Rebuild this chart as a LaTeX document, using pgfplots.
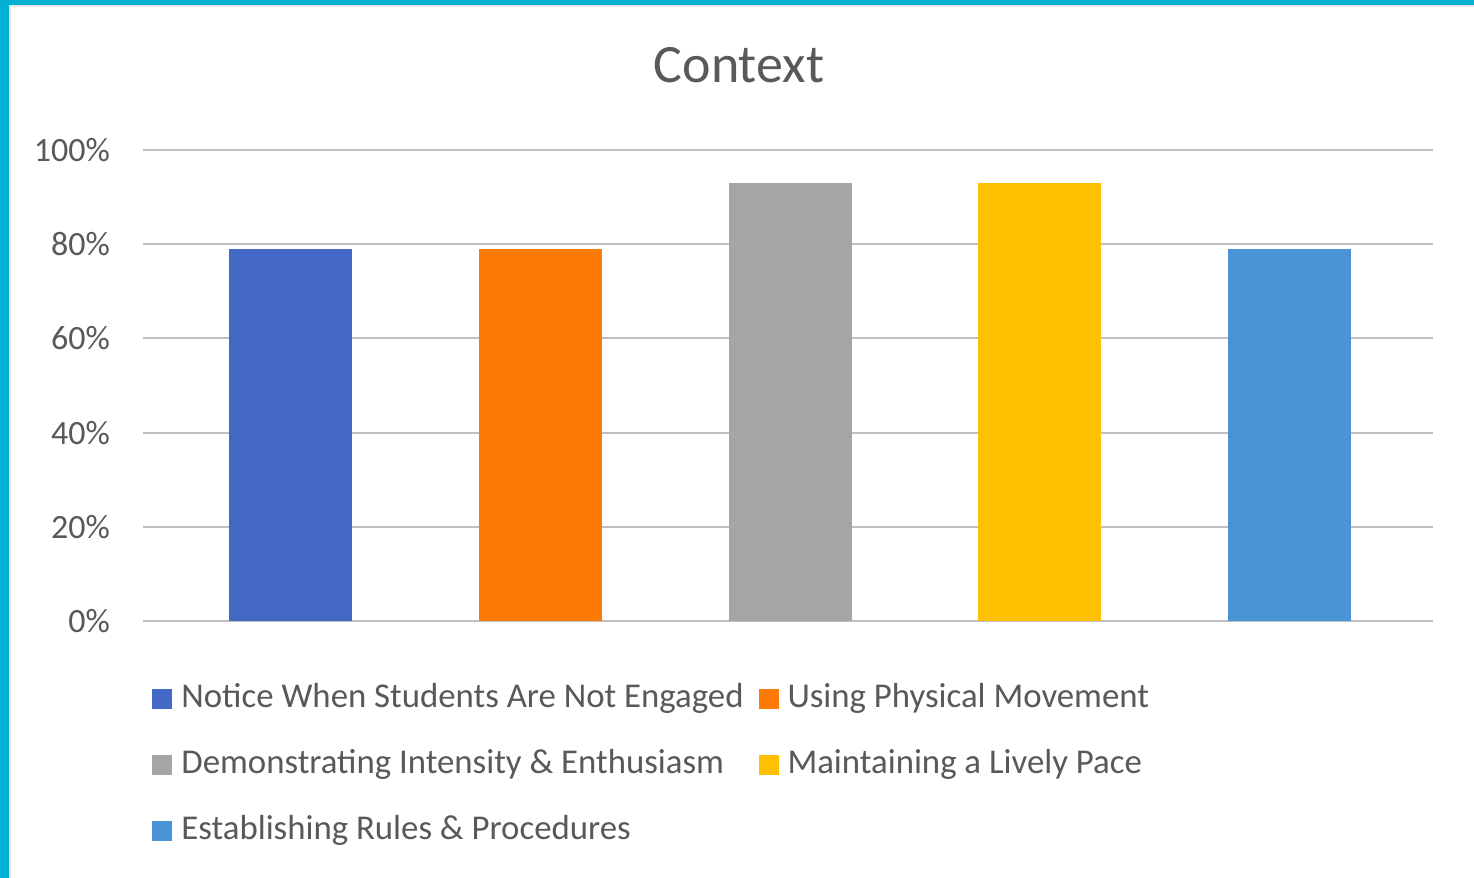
\documentclass[border=0pt]{standalone}
\usepackage{pgfplots}
\pgfplotsset{compat=1.18}
\usepackage{fontspec}
\setmainfont{Carlito}
\definecolor{txt}{HTML}{595959}
\definecolor{grid}{HTML}{D9D9D9}
\definecolor{cA}{HTML}{4468C5}
\definecolor{cB}{HTML}{FD7A05}
\definecolor{cC}{HTML}{A5A5A5}
\definecolor{cD}{HTML}{FFC000}
\definecolor{cE}{HTML}{4A94D6}
\definecolor{frame}{HTML}{00B0D2}
\begin{document}
\begin{tikzpicture}[x=0.5pt,y=0.5pt]
\fill[white] (0,0) rectangle (1474,878);
\useasboundingbox (0,0) rectangle (1474,878);
\fill[frame] (0,0) rectangle (9,878);
\fill[frame] (0,873) rectangle (1474,878);
\draw[grid!60,line width=0.8pt] (10,0) -- (10,872) -- (1474,872);
\node[font=\fontsize{27}{32}\selectfont, text=txt] at (739,813) {Context};
\begin{axis}[
  at={(71.5pt,128.5pt)}, anchor=south west,
  scale only axis, width=645pt, height=235.5pt,
  xmin=-0.593, xmax=4.577, ymin=0, ymax=1,
  ytick={0,0.2,0.4,0.6,0.8,1},
  yticklabels={0\%,20\%,40\%,60\%,80\%,100\%},
  xtick=\empty,
  ymajorgrids, grid style={grid, line width=1pt},
  axis line style={draw=none},
  major tick length=0pt,
  yticklabel style={text=txt, font=\fontsize{17}{20}\selectfont, xshift=-13pt},
  /pgf/number format/assume math mode=true,
  ybar, bar width=61.5pt, bar shift=0pt,
  every axis plot/.append style={draw=none},
  legend columns=2,
  legend cell align=left,
  legend image code/.code={\fill[#1] (0pt,-5pt) rectangle (10pt,5pt);},
  legend style={at={(0,0)}, anchor=north west, xshift=4.5pt, yshift=-31pt,
    draw=none, fill=none, inner sep=0pt, row sep=17pt,
    font=\fontsize{17.4}{20}\selectfont, text=txt,
    nodes={inner sep=0pt, text height=12pt, text depth=4pt},
    /tikz/every odd column/.append style={column sep=4.5pt},
    /tikz/every even column/.append style={column sep=7.5pt}},
]
\addplot[fill=cA] coordinates {(0,0.79)};
\addlegendentry{Notice When Students Are Not Engaged}
\addplot[fill=cB] coordinates {(1,0.79)};
\addlegendentry{Using Physical Movement}
\addplot[fill=cC] coordinates {(2,0.93)};
\addlegendentry{Demonstrating Intensity \& Enthusiasm}
\addplot[fill=cD] coordinates {(3,0.93)};
\addlegendentry{Maintaining a Lively Pace}
\addplot[fill=cE] coordinates {(4,0.79)};
\addlegendentry{Establishing Rules \& Procedures}
\end{axis}
\end{tikzpicture}
\end{document}
